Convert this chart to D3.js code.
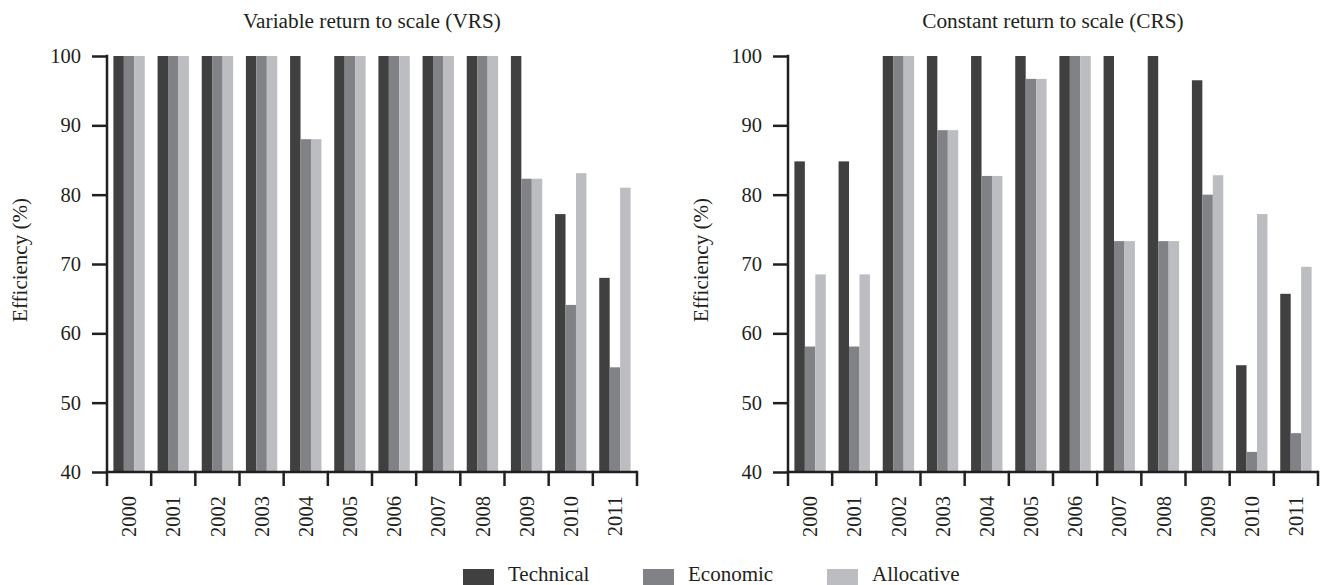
<!DOCTYPE html>
<meta http-equiv="content-type" content="text/html; charset=utf-8" />
<html lang="en">
<head>
<title>Efficiency VRS / CRS</title>
<script src="https://d3js.org/d3.v7.min.js"></script>
<style>
body { margin: 0; background: #fff; }
svg { display: block; }
svg text { font-family: "Liberation Serif", "Times New Roman", serif; }
</style>
</head>
<body>
<div id="plot"></div>
</body>
<script>
var width = 1330, height = 585;

// data
var years = ["2000","2001","2002","2003","2004","2005","2006","2007","2008","2009","2010","2011"];
var series = ["Technical", "Economic", "Allocative"];
var colors = ["#404040", "#818286", "#bcbdc1"];
var yTicks = [40, 50, 60, 70, 80, 90, 100];

var vrsTechnical  = [100, 100, 100, 100, 100, 100, 100, 100, 100, 100, 77.2, 68];
var vrsEconomic   = [100, 100, 100, 100, 88, 100, 100, 100, 100, 82.3, 64.1, 55.1];
var vrsAllocative = [100, 100, 100, 100, 88, 100, 100, 100, 100, 82.3, 83.1, 81];

var crsTechnical  = [84.8, 84.8, 100, 100, 100, 100, 100, 100, 100, 96.5, 55.4, 65.7];
var crsEconomic   = [58.1, 58.1, 100, 89.3, 82.7, 96.7, 100, 73.3, 73.3, 80, 42.9, 45.6];
var crsAllocative = [68.5, 68.5, 100, 89.3, 82.7, 96.7, 100, 73.3, 73.3, 82.8, 77.2, 69.6];

var panels = [
  {title: "Variable return to scale (VRS)", left: 107, values: [vrsTechnical, vrsEconomic, vrsAllocative]},
  {title: "Constant return to scale (CRS)", left: 788, values: [crsTechnical, crsEconomic, crsAllocative]}
];

var plotTop = 56, plotH = 416, plotW = 530, tickLen = 14;
var axisColor = "#231f20";
var textColor = "#231f20";
var serif = "Liberation Serif, Times New Roman, serif";

var svg = d3.select("#plot").append("svg")
  .attr("width", width).attr("height", height);

var y = d3.scaleLinear().domain([40, 100]).range([plotH, 0]);

panels.forEach(function(p) {
  var g = svg.append("g").attr("transform", "translate(" + p.left + "," + plotTop + ")");

  var x0 = d3.scaleBand().domain(years).range([0, plotW]);
  var x1 = d3.scaleBand().domain(series)
    .range([x0.bandwidth() * 0.145, x0.bandwidth() * 0.855]);

  // bars
  series.forEach(function(s, si) {
    g.selectAll(null)
      .data(years.map(function(yr, i) { return {year: yr, v: p.values[si][i]}; }))
      .enter().append("rect")
      .attr("x", d => x0(d.year) + x1(s))
      .attr("width", x1.bandwidth())
      .attr("y", d => y(d.v))
      .attr("height", d => plotH - y(d.v))
      .attr("fill", colors[si]);
  });

  // y axis
  var yAxis = d3.axisLeft(y).tickValues(yTicks).tickSize(15).tickSizeOuter(0).tickPadding(11);
  var ya = g.append("g").call(yAxis).attr("font-family", serif).attr("font-size", 20.5);
  ya.select(".domain").remove();
  ya.selectAll("line").attr("stroke", axisColor).attr("stroke-width", 2.5);
  ya.selectAll("text").attr("fill", textColor);
  g.append("line")
    .attr("x1", 0).attr("x2", 0).attr("y1", -1.2).attr("y2", plotH)
    .attr("stroke", axisColor).attr("stroke-width", 2.5);

  // x axis, ticks on band boundaries
  g.append("line")
    .attr("x1", 0).attr("x2", plotW).attr("y1", plotH).attr("y2", plotH)
    .attr("stroke", axisColor).attr("stroke-width", 2.5);
  var bounds = years.map(d => x0(d)).concat([plotW]);
  g.selectAll(null).data(bounds).enter().append("line")
    .attr("x1", d => d).attr("x2", d => d)
    .attr("y1", plotH - 1.2).attr("y2", plotH + tickLen)
    .attr("stroke", axisColor).attr("stroke-width", 2.5);
  g.selectAll(null).data(years).enter().append("text")
    .attr("transform", d => "translate(" + (x0(d) + x0.bandwidth() / 2) + "," + (plotH + 24) + ") rotate(-90)")
    .attr("text-anchor", "end")
    .attr("dy", "0.35em")
    .attr("font-family", serif)
    .attr("font-size", 20.5)
    .attr("fill", textColor)
    .text(d => d);

  // titles
  g.append("text")
    .attr("x", plotW / 2).attr("y", -28)
    .attr("text-anchor", "middle")
    .attr("font-family", serif)
    .attr("font-size", 21.3).attr("fill", textColor)
    .text(p.title);
  g.append("text")
    .attr("transform", "translate(-80," + (plotH / 2 - 4) + ") rotate(-90)")
    .attr("text-anchor", "middle")
    .attr("font-family", serif)
    .attr("font-size", 21).attr("fill", textColor)
    .text("Efficiency (%)");
});

// legend
var legendX = [463, 643, 827];
var lg = svg.append("g");
series.forEach(function(s, i) {
  lg.append("rect")
    .attr("x", legendX[i]).attr("y", 569)
    .attr("width", 31).attr("height", 18)
    .attr("fill", colors[i]);
  lg.append("text")
    .attr("x", legendX[i] + 45).attr("y", 581)
    .attr("font-family", serif)
    .attr("font-size", 21).attr("fill", textColor)
    .text(s);
});
</script>
</html>
